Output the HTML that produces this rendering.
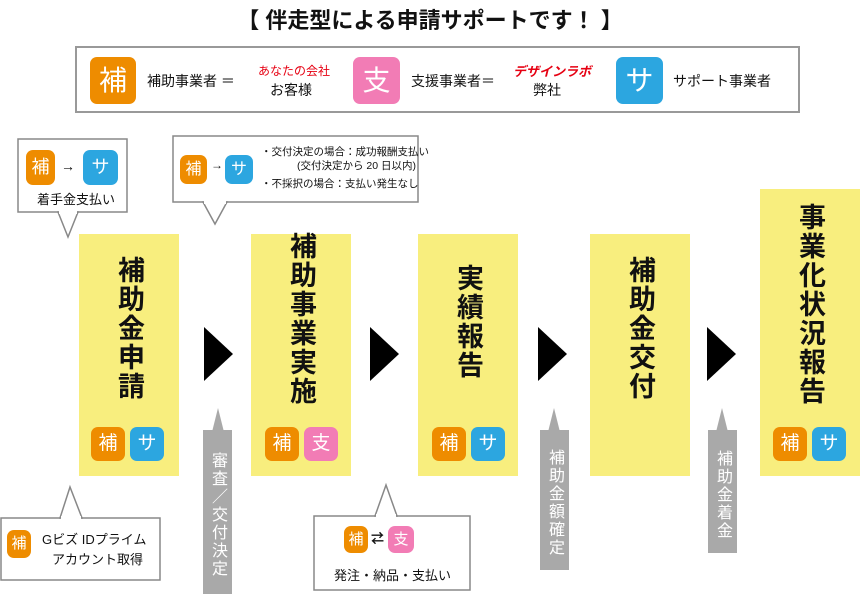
<!DOCTYPE html><html><head><meta charset="utf-8"><style>
body{margin:0;width:860px;height:594px;background:#fff;position:relative;overflow:hidden;font-family:"Liberation Sans","Noto Sans CJK JP",sans-serif;color:#111}
.a{position:absolute}
.b{position:absolute;color:#fff;text-align:center;border-radius:7px;font-weight:normal}
.o{background:#ee8c00}.p{background:#f27cb5}.c{background:#2ca6e0}
.y{position:absolute;background:#f8ee7e;top:234px;height:242px;width:100px}
.vt{position:absolute;writing-mode:vertical-rl;text-orientation:upright;font-weight:bold;font-size:27px;line-height:30px;letter-spacing:2px;left:50%;transform:translateX(-50%)}
.g{position:absolute;background:#a9a9a9;color:#fff;writing-mode:vertical-rl;text-orientation:upright;font-size:16px;line-height:29px;text-align:center;padding-top:6px;letter-spacing:2px;width:29px}
.tri{position:absolute;width:0;height:0;border-left:29px solid #000;border-top:27px solid transparent;border-bottom:27px solid transparent;top:327px}
.co{position:absolute;border:1.5px solid #888;background:#fff;box-sizing:border-box}
</style></head><body>
<div class="a" style="left:0;width:860px;top:3px;text-align:center;font-size:22px;font-weight:bold">【 伴走型による申請サポートです！ 】</div>
<div class="a" style="left:75px;top:46px;width:725px;height:67px;border:2px solid #999;box-sizing:border-box"></div>
<div class="b o" style="left:90px;top:57px;width:46px;height:47px;font-size:28px;line-height:47px">補</div>
<div class="a" style="left:147px;top:71px;font-size:14px">補助事業者 ＝</div>
<div class="a" style="left:258px;top:62px;font-size:12px;color:#e60012">あなたの会社</div>
<div class="a" style="left:270px;top:80px;font-size:14px">お客様</div>
<div class="b p" style="left:353px;top:57px;width:47px;height:47px;font-size:28px;line-height:47px">支</div>
<div class="a" style="left:411px;top:71px;font-size:14px">支援事業者＝</div>
<div class="a" style="left:513px;top:61px;font-size:13px;color:#e60012;font-weight:bold;font-style:italic">デザインラボ</div>
<div class="a" style="left:533px;top:80px;font-size:14px">弊社</div>
<div class="b c" style="left:616px;top:57px;width:47px;height:47px;font-size:28px;line-height:47px">サ</div>
<div class="a" style="left:673px;top:71px;font-size:14px">サポート事業者</div>

<svg class="a" style="left:0;top:0" width="860" height="594">
<g fill="#fff" stroke="#888" stroke-width="1.5">
<rect x="18" y="139" width="109" height="73"/><polygon points="58,212 68,237 78,212"/>
<rect x="173" y="136" width="245" height="66"/><polygon points="203,202 215,224 227,202"/>
<rect x="1" y="518" width="159" height="62"/><polygon points="60,518 70,487 82,518"/>
<rect x="314" y="516" width="156" height="74"/><polygon points="375,516 386,485 397,516"/>
</g>
<g fill="#fff"><rect x="59" y="210" width="18" height="4"/><rect x="204" y="200" width="22" height="4"/><rect x="61" y="516" width="20" height="4"/><rect x="376" y="514" width="20" height="4"/></g>
<g fill="#a9a9a9"><polygon points="212,432 218,408 224,432"/><polygon points="548,432 554,408 560,432"/><polygon points="716,432 722,408 728,432"/></g>
</svg>

<div class="b o" style="left:26px;top:150px;width:29px;height:35px;font-size:18px;line-height:35px">補</div>
<div class="a" style="left:61px;top:158px;font-size:14px;font-weight:bold">→</div>
<div class="b c" style="left:83px;top:150px;width:35px;height:35px;font-size:18px;line-height:35px">サ</div>
<div class="a" style="left:37px;top:189px;font-size:13px">着手金支払い</div>

<div class="b o" style="left:180px;top:155px;width:27px;height:29px;font-size:16px;line-height:29px">補</div>
<div class="a" style="left:211px;top:158px;font-size:12px;font-weight:bold">→</div>
<div class="b c" style="left:225px;top:155px;width:28px;height:29px;font-size:16px;line-height:29px">サ</div>
<div class="a" style="left:261px;top:145px;font-size:10.5px;line-height:14px">・交付決定の場合：成功報酬支払い<br><span style="padding-left:36px">(交付決定から 20 日以内)</span><br><span style="line-height:22px">・不採択の場合：支払い発生なし</span></div>

<div class="y" style="left:79px"><div class="vt" style="top:22px">補助金申請</div>
<div class="b o" style="left:12px;top:193px;width:34px;height:34px;font-size:19px;line-height:34px">補</div><div class="b c" style="left:51px;top:193px;width:34px;height:34px;font-size:19px;line-height:34px">サ</div></div>
<div class="y" style="left:251px"><div class="vt" style="top:-2px">補助事業実施</div>
<div class="b o" style="left:14px;top:193px;width:34px;height:34px;font-size:19px;line-height:34px">補</div><div class="b p" style="left:53px;top:193px;width:34px;height:34px;font-size:19px;line-height:34px">支</div></div>
<div class="y" style="left:418px"><div class="vt" style="top:30px">実績報告</div>
<div class="b o" style="left:14px;top:193px;width:34px;height:34px;font-size:19px;line-height:34px">補</div><div class="b c" style="left:53px;top:193px;width:34px;height:34px;font-size:19px;line-height:34px">サ</div></div>
<div class="y" style="left:590px"><div class="vt" style="top:22px">補助金交付</div></div>
<div class="y" style="left:760px;top:189px;height:287px"><div class="vt" style="top:14px">事業化状況報告</div>
<div class="b o" style="left:13px;top:238px;width:34px;height:34px;font-size:19px;line-height:34px">補</div><div class="b c" style="left:52px;top:238px;width:34px;height:34px;font-size:19px;line-height:34px">サ</div></div>

<div class="tri" style="left:204px"></div><div class="tri" style="left:370px"></div><div class="tri" style="left:538px"></div><div class="tri" style="left:707px"></div>

<div class="g" style="left:203px;top:430px;height:158px">審査／交付決定</div>
<div class="g" style="left:540px;top:430px;height:134px">補助金額確定</div>
<div class="g" style="left:708px;top:430px;height:117px">補助金着金</div>

<div class="b o" style="left:7px;top:530px;width:24px;height:28px;font-size:15px;line-height:28px">補</div>
<div class="a" style="left:42px;top:530px;font-size:13px;line-height:20px">Gビズ IDプライム<br><span style="padding-left:10px">アカウント取得</span></div>
<div class="b o" style="left:344px;top:526px;width:24px;height:27px;font-size:15px;line-height:27px">補</div>
<div class="a" style="left:371px;top:528px;font-size:13px;font-weight:bold">⇄</div>
<div class="b p" style="left:388px;top:526px;width:26px;height:27px;font-size:15px;line-height:27px">支</div>
<div class="a" style="left:334px;top:565px;font-size:13px">発注・納品・支払い</div>
</body></html>
